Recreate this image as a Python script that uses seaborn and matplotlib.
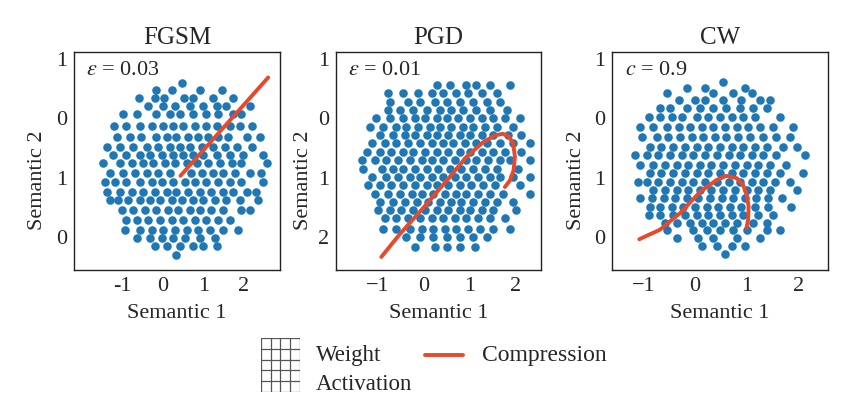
import matplotlib
matplotlib.use("Agg")
import matplotlib.pyplot as plt
import seaborn as sns
import pandas as pd

# dot rows: one y per row, the x of each dot in it
fgsm_row_y = [0.60, 0.48, 0.34, 0.20, 0.08, -0.13, -0.31, -0.48, -0.62, -0.76,
              -0.92, -1.07, -1.24, -1.38, -1.54, -1.71, -1.88, -2.02, -2.16, -2.30]
fgsm_row_x = [
    [0.49],
    [-0.16, 0.22, 0.92, 1.47],
    [-0.58, -0.19, 0.04, 0.52, 0.75, 1.25, 1.74],
    [-0.35, 0.02, 0.30, 0.67, 1.00, 1.33, 1.57, 2.15],
    [-0.97, -0.64, -0.15, 0.18, 0.43, 0.75, 1.08, 1.37, 1.74, 1.94],
    [-1.19, -0.90, -0.56, -0.27, 0.02, 0.26, 0.51, 0.80, 1.08, 1.33, 1.66, 1.90, 2.19],
    [-1.13, -0.80, -0.52, -0.15, 0.10, 0.34, 0.63, 0.88, 1.12, 1.37, 1.61, 2.07, 2.39],
    [-1.38, -1.05, -0.72, -0.39, -0.11, 0.18, 0.43, 0.67, 0.96, 1.25, 1.53, 1.82, 2.19],
    [-1.21, -0.89, -0.56, -0.31, -0.02, 0.26, 0.51, 0.75, 1.00, 1.33, 1.66, 1.98, 2.48],
    [-1.46, -1.05, -0.76, -0.48, -0.23, 0.06, 0.30, 0.59, 0.84, 1.12, 1.41, 1.70, 1.94, 2.56],
    [-1.30, -0.97, -0.68, -0.39, -0.11, 0.18, 0.71, 0.96, 1.25, 1.49, 1.78, 2.15, 2.43],
    [-1.42, -1.17, -0.89, -0.56, -0.27, -0.02, 0.26, 0.55, 0.80, 1.08, 1.37, 1.66, 1.94, 2.48],
    [-1.38, -1.05, -0.76, -0.48, -0.19, 0.10, 0.34, 0.63, 0.92, 1.20, 1.49, 1.74, 2.07, 2.31],
    [-1.30, -1.09, -0.84, -0.56, -0.31, -0.07, 0.22, 0.47, 0.75, 1.00, 1.29, 1.57, 1.90, 2.35],
    [-1.01, -0.72, -0.43, -0.15, 0.14, 0.39, 0.67, 0.92, 1.20, 1.49, 1.94, 2.15],
    [-0.89, -0.64, -0.35, -0.07, 0.22, 0.51, 0.80, 1.08, 1.37, 1.66],
    [-0.93, -0.56, -0.27, 0.02, 0.30, 0.59, 0.88, 1.16, 1.49, 1.86],
    [-0.64, -0.31, -0.02, 0.26, 0.55, 0.92, 1.29],
    [-0.19, 0.10, 0.43, 0.74, 1.00, 1.33],
    [0.34],
]

pgd_row_y = [0.56, 0.42, 0.28, 0.14, 0.00, -0.14, -0.28, -0.42, -0.56, -0.71,
             -0.85, -0.99, -1.13, -1.27, -1.41, -1.55, -1.69, -1.86, -2.01, -2.18]
pgd_row_x = [
    [0.28, 0.57, 0.93, 1.15, 1.44, 1.89],
    [-0.78, -0.45, -0.12, 0.17, 0.42, 0.71, 0.97, 1.26, 1.59],
    [-0.74, -0.34, -0.09, 0.24, 0.50, 0.79, 1.08, 1.37, 1.66],
    [-0.78, -0.52, -0.23, 0.06, 0.35, 0.60, 0.86, 1.15, 1.44, 1.81],
    [-1.04, -0.74, -0.45, -0.20, 0.02, 0.28, 0.50, 0.75, 1.01, 1.26, 1.51, 1.77, 2.10],
    [-1.18, -0.89, -0.60, -0.38, -0.12, 0.13, 0.35, 0.60, 0.86, 1.08, 1.33, 1.59, 1.95],
    [-0.96, -0.67, -0.42, -0.20, 0.06, 0.28, 0.53, 0.79, 1.01, 1.26, 1.51, 1.84, 2.13],
    [-1.14, -0.85, -0.60, -0.34, -0.09, 0.17, 0.42, 0.64, 0.90, 1.15, 1.37, 1.66, 1.95, 2.32],
    [-1.25, -0.96, -0.71, -0.45, -0.23, 0.02, 0.28, 0.53, 0.79, 1.01, 1.26, 1.51, 1.77, 2.13],
    [-1.36, -1.07, -0.82, -0.56, -0.31, -0.05, 0.17, 0.42, 0.68, 0.93, 1.15, 1.41, 1.66, 1.88, 2.32],
    [-1.33, -0.92, -0.67, -0.45, -0.20, 0.06, 0.31, 0.57, 0.82, 1.08, 1.33, 1.59, 2.06],
    [-1.14, -0.82, -0.56, -0.31, -0.09, 0.17, 0.42, 0.68, 0.93, 1.19, 1.44, 1.66, 1.95, 2.32],
    [-1.22, -0.96, -0.71, -0.45, -0.20, 0.06, 0.28, 0.53, 0.79, 1.04, 1.30, 1.55, 2.10],
    [-1.07, -0.78, -0.52, -0.27, -0.05, 0.20, 0.46, 0.71, 0.93, 1.19, 1.44, 1.73, 2.32],
    [-0.96, -0.67, -0.42, -0.16, 0.09, 0.35, 0.60, 0.82, 1.08, 1.33, 1.59, 1.95],
    [-1.00, -0.74, -0.49, -0.23, 0.02, 0.28, 0.53, 0.79, 1.01, 1.26, 1.51, 2.02],
    [-0.85, -0.60, -0.34, -0.09, 0.17, 0.42, 0.68, 0.93, 1.19, 1.44, 1.77],
    [-0.89, -0.60, -0.31, -0.05, 0.20, 0.46, 0.71, 0.97, 1.22, 1.51, 1.88],
    [-0.38, -0.09, 0.20, 0.50, 0.79, 1.08, 1.37],
    [-0.20, 0.24, 0.50, 0.79, 1.11],
]

cw_row_y = [0.62, 0.52, 0.42, 0.31, 0.17, 0.03, -0.14, -0.31, -0.48, -0.62, -0.79,
            -0.93, -1.07, -1.21, -1.35, -1.49, -1.63, -1.77, -1.88, -2.02, -2.16, -2.29]
cw_row_x = [
    [0.55],
    [-0.15, 0.19, 0.97],
    [-0.55, 0.35, 0.74, 1.10],
    [-0.32, 0.00, 0.19, 0.55, 0.90, 1.26, 1.45],
    [-0.68, -0.48, -0.16, 0.10, 0.35, 0.61, 0.87, 1.13, 1.39],
    [-0.90, -0.68, -0.45, -0.26, 0.03, 0.26, 0.48, 0.71, 0.94, 1.16, 1.65],
    [-1.06, -0.81, -0.55, -0.32, -0.10, 0.13, 0.35, 0.58, 0.81, 1.03, 1.26, 1.52, 1.90],
    [-1.03, -0.74, -0.52, -0.29, -0.06, 0.16, 0.39, 0.61, 0.84, 1.06, 1.32, 1.58, 1.84],
    [-0.87, -0.65, -0.42, -0.19, 0.03, 0.26, 0.48, 0.71, 0.94, 1.16, 1.39, 1.71, 1.97],
    [-1.16, -0.94, -0.71, -0.48, -0.26, -0.03, 0.19, 0.42, 0.65, 0.87, 1.10, 1.32, 1.58, 2.13],
    [-1.06, -0.81, -0.58, -0.35, -0.13, 0.10, 0.32, 0.55, 0.77, 1.00, 1.23, 1.45, 1.77],
    [-0.87, -0.65, -0.42, -0.19, 0.03, 0.26, 0.48, 0.71, 0.94, 1.16, 1.39, 1.65, 2.10],
    [-1.10, -0.94, -0.71, -0.48, -0.26, -0.03, 0.19, 0.42, 0.65, 0.87, 1.10, 1.32, 1.55, 1.84],
    [-0.81, -0.58, -0.35, -0.13, 0.10, 0.32, 0.55, 0.77, 1.00, 1.23, 1.45, 1.97],
    [-1.06, -0.84, -0.61, -0.39, -0.16, 0.06, 0.29, 0.52, 0.74, 0.97, 1.19, 1.42, 1.68],
    [-0.87, -0.68, -0.45, -0.23, 0.00, 0.23, 0.45, 0.68, 0.90, 1.16, 1.42, 1.87],
    [-0.90, -0.68, -0.42, -0.19, 0.03, 0.26, 0.48, 0.71, 0.94, 1.23, 1.52],
    [-0.58, -0.35, -0.10, 0.13, 0.35, 0.58, 0.81, 1.13, 1.39],
    [-0.55, -0.03, 0.23, 0.48, 0.74, 1.00, 1.39, 1.65],
    [-0.35, 0.06, 0.35, 0.81, 1.26],
    [0.13, 0.42, 0.71, 0.97],
    [0.58],
]

# compression paths
fgsm_path_x = [0.44, 2.60]
fgsm_path_y = [-0.97, 0.69]
pgd_path_x = [-0.93, -0.52, 0.00, 0.50, 0.93, 1.30, 1.55, 1.72, 1.85, 1.95, 1.99, 1.96, 1.88, 1.77]
pgd_path_y = [-2.34, -1.95, -1.50, -1.05, -0.65, -0.40, -0.29, -0.26, -0.30, -0.42, -0.65, -0.88, -1.05, -1.16]
cw_path_x = [-1.08, -0.68, -0.29, 0.10, 0.42, 0.61, 0.81, 0.93, 1.00, 1.04, 1.03, 1.00]
cw_path_y = [-2.04, -1.88, -1.60, -1.24, -1.04, -0.97, -1.01, -1.12, -1.28, -1.49, -1.71, -1.85]

titles = ["FGSM", "PGD", "CW"]
notes = [r"$\varepsilon$ = 0.03", r"$\varepsilon$ = 0.01", r"$c$ = 0.9"]
x_ticks = [-1, 0, 1, 2]
x_labels = [["-1", "0", "1", "2"], ["\u22121", "0", "1", "2"], ["\u22121", "0", "1", "2"]]
y_ticks = [1, 0, -1, -2]
y_labels = [["1", "0", "1", "0"], ["1", "0", "1", "2"], ["1", "0", "1", "0"]]
x_limits = [(-2.18, 2.89), (-1.92, 2.56), (-1.61, 2.58)]
y_limits = (-2.56, 1.12)
ylabel_x = [-0.13, -0.11, -0.12]

sns.set_style("white")
plt.rcParams["font.family"] = ["Liberation Serif", "DejaVu Serif"]
plt.rcParams["mathtext.fontset"] = "stix"

blue = "#1f77b4"
red = "#e8492a"

fig = plt.figure(figsize=(8.42, 3.97), dpi=100)
W, H = 842, 397
boxes = [(74, 280), (336, 541), (612, 828)]
top, bottom = 52, 270

panels = [(fgsm_row_y, fgsm_row_x, fgsm_path_x, fgsm_path_y),
          (pgd_row_y, pgd_row_x, pgd_path_x, pgd_path_y),
          (cw_row_y, cw_row_x, cw_path_x, cw_path_y)]

for i, (row_y, row_x, px, py) in enumerate(panels):
    left, right = boxes[i]
    ax = fig.add_axes([left / W, (H - bottom) / H, (right - left) / W, (bottom - top) / H])
    pts = pd.DataFrame({"x": [x for xs in row_x for x in xs],
                        "y": [y for y, xs in zip(row_y, row_x) for _ in xs]})
    sns.scatterplot(data=pts, x="x", y="y", ax=ax, color=blue, s=38, linewidth=0, zorder=2)
    path = pd.DataFrame({"x": px, "y": py})
    sns.lineplot(data=path, x="x", y="y", ax=ax, color=red, linewidth=2.8,
                 sort=False, estimator=None, zorder=3)
    ax.set_xlim(*x_limits[i])
    ax.set_ylim(*y_limits)
    ax.set_xticks(x_ticks)
    ax.set_xticklabels(x_labels[i])
    ax.set_yticks(y_ticks)
    ax.set_yticklabels(y_labels[i])
    ax.tick_params(axis="both", direction="in", length=3, width=0.8, labelsize=16, pad=5)
    for sp in ax.spines.values():
        sp.set_color("#222222")
        sp.set_linewidth(1.0)
    ax.set_title(titles[i], fontsize=18, pad=6)
    ax.set_xlabel("Semantic 1", fontsize=16, labelpad=6)
    ax.set_ylabel("Semantic 2", fontsize=16)
    ax.yaxis.set_label_coords(ylabel_x[i], 0.41)
    ax.text(0.06, 0.915, notes[i], transform=ax.transAxes, fontsize=16, va="center", ha="left")

# legend below the panels
grid_ax = fig.add_axes([260.7 / W, (H - 392) / H, 39.3 / W, 54 / H])
grid_ax.set_xlim(0, 4)
grid_ax.set_ylim(0, 5)
for k in range(5):
    grid_ax.axvline(k, color="#555555", linewidth=0.9)
for k in range(6):
    grid_ax.axhline(k, color="#555555", linewidth=0.9)
grid_ax.set_axis_off()

fig.text(316 / W, 1 - 356 / H, "Weight", fontsize=16.5, va="center", ha="left")
fig.text(316 / W, 1 - 384 / H, "Activation", fontsize=16.5, va="center", ha="left")
fig.add_artist(plt.Line2D([425 / W, 463 / W], [1 - 355 / H, 1 - 355 / H], color=red, linewidth=2.8))
fig.text(482 / W, 1 - 356 / H, "Compression", fontsize=17, va="center", ha="left")

fig.savefig("out.png", dpi=100)
